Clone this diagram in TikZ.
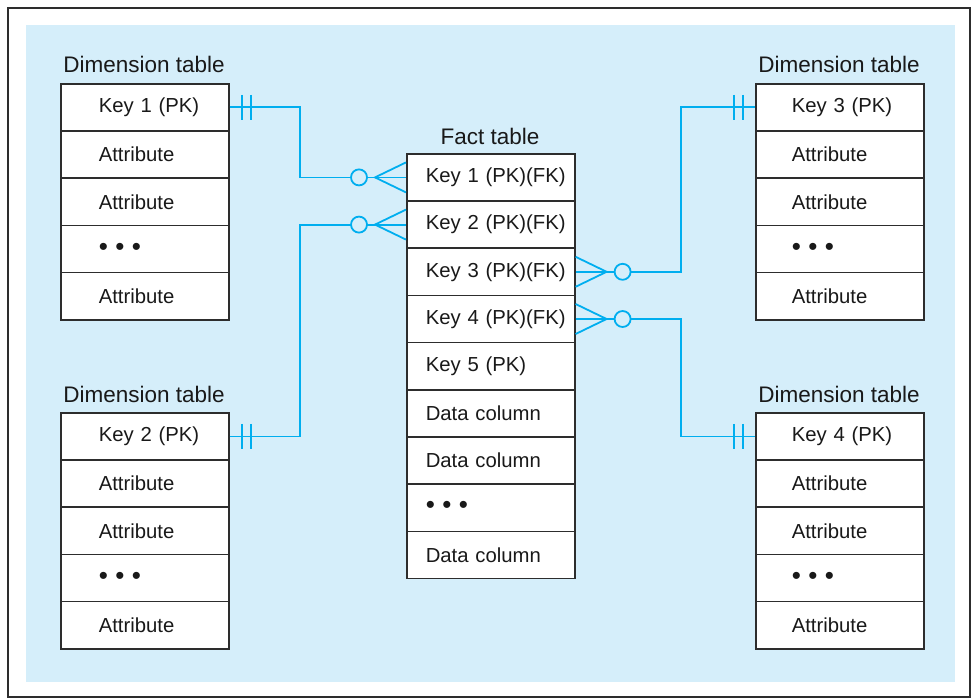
\documentclass[tikz,border=0pt]{standalone}
\usepackage{fontspec}
\setmainfont{Liberation Sans}
\usetikzlibrary{calc}
\definecolor{bgblue}{RGB}{213,238,250}
\definecolor{erblue}{RGB}{0,174,239}
\definecolor{rulegray}{RGB}{45,45,45}
\newcommand\dotrow{{\fontsize{26}{26}\selectfont\textbullet\hspace{7.4pt}\textbullet\hspace{7.4pt}\textbullet}}
\begin{document}
\begin{tikzpicture}[x=1pt,y=-1pt,line cap=butt,line join=miter]
\tikzset{cell/.style={draw=rulegray,line width=1.6pt,fill=white,anchor=north west,
minimum width=168pt,minimum height=47.2pt,text width=168pt,inner xsep=0pt,align=left,
font=\fontsize{20.3}{22}\selectfont,text=black!90},
head/.style={anchor=base,font=\fontsize{22.5}{24}\selectfont,text=black!90},
rel/.style={draw=erblue,line width=1.8pt}
}
\useasboundingbox (0,0) rectangle (972,698);
\draw[rulegray,line width=2.4pt] (8,8) rectangle (970,697);
\fill[bgblue] (26,25) rectangle (955,682);
% dimension tables
\foreach \t/\x/\y/\kn/\ind in {d1/60/83/1/38, d2/60/412/2/38, d3/755/83/3/36, d4/755/412/4/36}{
  \node[head] (\t-h) at (\x+84,\y-10) {Dimension table};
  \foreach \r/\txt in {1/Key \kn{} (PK), 2/Attribute, 3/Attribute, 4/\dotrow, 5/Attribute}
    \node[cell] (\t-\r) at (\x,{\y+(\r-1)*47.2}) {\hspace*{\ind pt}\txt};
}
% fact table
\node[head] (f-h) at (490,145) {Fact table};
\foreach \r/\txt in {1/Key 1 (PK)(FK), 2/Key 2 (PK)(FK), 3/Key 3 (PK)(FK), 4/Key 4 (PK)(FK),
  5/Key 5 (PK), 6/Data column, 7/Data column, 8/\dotrow, 9/Data column}
  \node[cell] (f-\r) at (406,{153+(\r-1)*47.2}) {\hspace*{19pt}\txt};
% relationships
\coordinate (jL) at (300,0);
\coordinate (jR) at (681,0);
\draw[rel] (d1-1.east) -| (jL |- f-1.west) -- (f-1.west);
\draw[rel] (d2-1.east) -| (jL |- f-2.west) -- (f-2.west);
\draw[rel] (f-3.east) -- (jR |- f-3.east) |- (d3-1.west);
\draw[rel] (f-4.east) -- (jR |- f-4.east) |- (d4-1.west);
% one side
\foreach \n/\s in {d1-1.east/1, d2-1.east/1, d3-1.west/-1, d4-1.west/-1}
  \draw[rel] ($(\n)+(\s*12,-12.5)$) -- ++(0,25) ($(\n)+(\s*21,-12.5)$) -- ++(0,25);
% zero or many side
\foreach \n/\s in {f-1.west/-1, f-2.west/-1, f-3.east/1, f-4.east/1}{
  \draw[rel] ($(\n)+(0,-15)$) -- ($(\n)+(\s*31,0)$) -- ($(\n)+(0,15)$);
  \draw[rel,fill=bgblue] ($(\n)+(\s*47,0)$) circle (8);
}
\end{tikzpicture}
\end{document}
